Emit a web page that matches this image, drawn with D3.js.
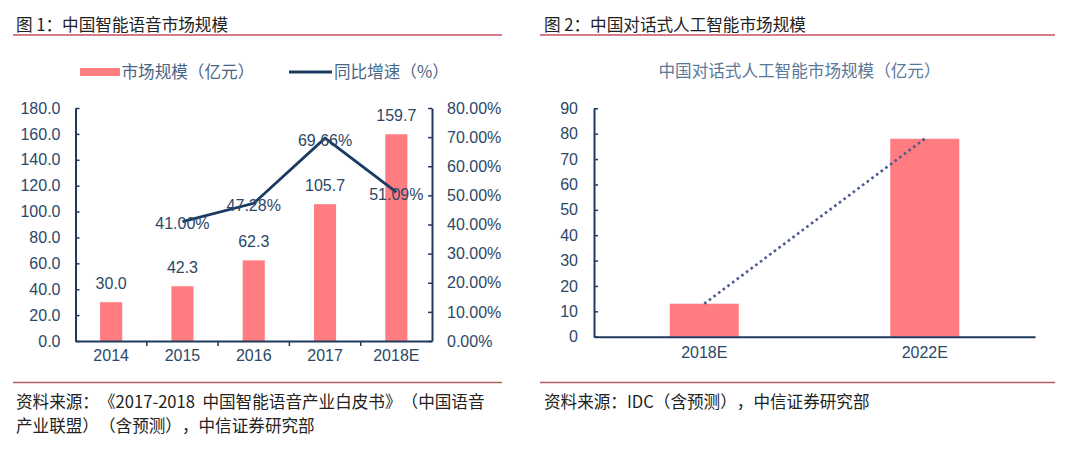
<!DOCTYPE html>
<html><head><meta charset="utf-8">
<script src="https://cdn.jsdelivr.net/npm/d3@7"></script>
<style>
body{margin:0;background:#fff;}
svg{display:block;}
text{font-family:"Liberation Sans",Arial,"Noto Sans CJK SC",sans-serif;text-spacing-trim:space-all;font-kerning:none;}
.cjk{font-family:"Noto Sans CJK SC","Liberation Sans",sans-serif;}
</style></head>
<body>
<svg id="c" width="1080" height="451"></svg>
<script>
// ---- data: chart 1 ----
const years1 = ["2014","2015","2016","2017","2018E"];
const market1 = [30.0, 42.3, 62.3, 105.7, 159.7];
const growthYears = ["2015","2016","2017","2018E"];
const growth1 = [41.00, 47.28, 69.66, 51.09];
const leftTicks1 = [0,20,40,60,80,100,120,140,160,180];
const rightTicks1 = [0,10,20,30,40,50,60,70,80];
// ---- data: chart 2 ----
const years2 = ["2018E","2022E"];
const market2 = [13, 78];
const ticks2 = [0,10,20,30,40,50,60,70,80,90];

const title1 = "图 1：中国智能语音市场规模";
const title2 = "图 2：中国对话式人工智能市场规模";
const legend1 = ["市场规模（亿元）","同比增速（%）"];
const subtitle2 = "中国对话式人工智能市场规模（亿元）";
const source1a = "资料来源：《2017-2018  中国智能语音产业白皮书》（中国语音";
const source1b = "产业联盟）（含预测），中信证券研究部";
const source2 = "资料来源：IDC（含预测），中信证券研究部";

const svg = d3.select("#c");
const axisColor = "#1f3a5f", textColor = "#2c4868", barColor = "#FF7C80", lineColor = "#1b3a63";
const ruleColor = "#c8505e";
const cjkSize = 16.6;

function header(x, x1, x2, t){
  svg.append("text").attr("class","cjk").attr("x",x).attr("y",30.5).attr("font-size",cjkSize).attr("fill","#222").text(t);
  svg.append("line").attr("x1",x1).attr("x2",x2).attr("y1",35).attr("y2",35).attr("stroke",ruleColor).attr("stroke-width",1.3);
}
header(16, 13, 502, title1);
header(544, 540, 1055, title2);
function footer(x1,x2){
  svg.append("line").attr("x1",x1).attr("x2",x2).attr("y1",382.5).attr("y2",382.5).attr("stroke","#b0605c").attr("stroke-width",1.3);
}
footer(13,502); footer(540,1055);
svg.append("text").attr("class","cjk").attr("x",16).attr("y",408).attr("font-size",cjkSize).attr("fill","#222").attr("xml:space","preserve").text(source1a);
svg.append("text").attr("class","cjk").attr("x",16).attr("y",431.5).attr("font-size",cjkSize).attr("fill","#222").text(source1b);
svg.append("text").attr("class","cjk").attr("x",544).attr("y",408).attr("font-size",cjkSize).attr("fill","#222").text(source2);

// ---- chart 1 ----
const L1 = 75.5, R1 = 432, T1 = 108, B1 = 341;
const x1 = d3.scaleBand().domain(years1).range([L1,R1]).paddingInner(0.69).paddingOuter(0.345);
const xb1 = d3.scaleBand().domain(years1).range([L1,R1]);
const yL = d3.scaleLinear().domain([0,180]).range([B1,T1]);
const yR = d3.scaleLinear().domain([0,80]).range([B1,T1]);

const lg = svg.append("g");
lg.append("rect").attr("x",80).attr("y",68).attr("width",40).attr("height",8).attr("fill",barColor);
lg.append("text").attr("class","cjk").attr("x",121.5).attr("y",78).attr("font-size",cjkSize).attr("fill","#4a6585").text(legend1[0]);
lg.append("line").attr("x1",289).attr("x2",332).attr("y1",72).attr("y2",72).attr("stroke",lineColor).attr("stroke-width",3);
lg.append("text").attr("class","cjk").attr("x",334).attr("y",78).attr("font-size",cjkSize).attr("fill","#4a6585").text(legend1[1]);

const g1 = svg.append("g");
g1.selectAll("rect.bar").data(years1).join("rect").attr("class","bar")
  .attr("x",d=>x1(d)).attr("width",x1.bandwidth())
  .attr("y",(d,i)=>yL(market1[i])).attr("height",(d,i)=>yL(0)-yL(market1[i]))
  .attr("fill",barColor);
g1.selectAll("text.bl").data(years1).join("text").attr("class","bl")
  .attr("x",d=>xb1(d)+xb1.bandwidth()/2).attr("y",(d,i)=>yL(market1[i])-13)
  .attr("text-anchor","middle").attr("font-size",16).attr("fill",textColor)
  .text((d,i)=>market1[i].toFixed(1));

function styleAxis(g){
  g.selectAll("path.domain").attr("stroke",axisColor).attr("stroke-width",2);
  g.selectAll(".tick line").attr("stroke",axisColor).attr("stroke-width",1.5);
  g.selectAll(".tick text").attr("fill",textColor).attr("font-size",16)
    .attr("font-family",'"Liberation Sans",Arial,sans-serif');
}
const axL = g1.append("g").attr("transform",`translate(${L1},0)`)
  .call(d3.axisLeft(yL).tickValues(leftTicks1).tickFormat(d=>d.toFixed(1)).tickSize(-4).tickPadding(15).tickSizeOuter(0));
styleAxis(axL);
const axR = g1.append("g").attr("transform",`translate(${R1},0)`)
  .call(d3.axisRight(yR).tickValues(rightTicks1).tickFormat(d=>d.toFixed(2)+"%").tickSize(-4).tickPadding(15).tickSizeOuter(0));
styleAxis(axR);
const axB = g1.append("g").attr("transform",`translate(0,${B1})`)
  .call(d3.axisBottom(xb1).tickSize(0).tickPadding(9).tickSizeOuter(0));
styleAxis(axB);
g1.selectAll("line.bt").data(years1.slice(1)).join("line").attr("class","bt")
  .attr("x1",d=>xb1(d)).attr("x2",d=>xb1(d)).attr("y1",B1).attr("y2",B1+5)
  .attr("stroke",axisColor).attr("stroke-width",1.5);

const line1 = d3.line().x((d,i)=>xb1(growthYears[i])+xb1.bandwidth()/2).y(d=>yR(d));
g1.append("path").datum(growth1).attr("d",line1).attr("fill","none").attr("stroke",lineColor).attr("stroke-width",2.8);
g1.selectAll("text.ll").data(growth1).join("text").attr("class","ll")
  .attr("x",(d,i)=>xb1(growthYears[i])+xb1.bandwidth()/2).attr("y",d=>yR(d)+7.5)
  .attr("text-anchor","middle").attr("font-size",16).attr("fill",textColor)
  .text(d=>d.toFixed(2)+"%");

// ---- chart 2 ----
svg.append("text").attr("class","cjk").attr("x",799.5).attr("y",77).attr("text-anchor","middle")
  .attr("font-size",cjkSize).attr("fill","#5a7898").text(subtitle2);
const L2 = 594, R2 = 1035, T2 = 108.3, B2 = 336.7;
const x2 = d3.scaleBand().domain(years2).range([L2,R2]).paddingInner(0.687).paddingOuter(0.3435);
const xb2 = d3.scaleBand().domain(years2).range([L2,R2]);
const y2 = d3.scaleLinear().domain([0,90]).range([B2,T2]);
const g2 = svg.append("g");
g2.selectAll("rect").data(years2).join("rect")
  .attr("x",d=>x2(d)).attr("width",x2.bandwidth())
  .attr("y",(d,i)=>y2(market2[i])).attr("height",(d,i)=>y2(0)-y2(market2[i]))
  .attr("fill",barColor);
const ay2 = g2.append("g").attr("transform",`translate(${L2},0)`)
  .call(d3.axisLeft(y2).tickValues(ticks2).tickSize(-4).tickPadding(16).tickSizeOuter(0));
styleAxis(ay2);
const ax2 = g2.append("g").attr("transform",`translate(0,${B2})`)
  .call(d3.axisBottom(xb2).tickSize(0).tickPadding(9.5).tickSizeOuter(0));
styleAxis(ax2);
const trend = d3.line().x((d,i)=>xb2(years2[i])+xb2.bandwidth()/2).y(d=>y2(d));
g2.append("path").datum(market2).attr("d",trend).attr("fill","none")
  .attr("stroke","#4a5a8c").attr("stroke-width",2.6).attr("stroke-dasharray","2.6 3.2");
</script>
</body></html>
